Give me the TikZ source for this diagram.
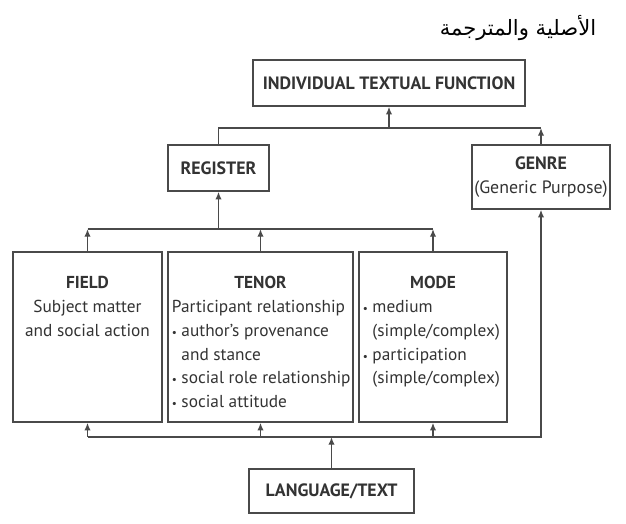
\documentclass[tikz,border=0pt]{standalone}
\usepackage{fontspec}
\setmainfont{PT Sans}
\newfontfamily\arabicfont[Script=Arabic]{DejaVu Sans}
\TeXXeTstate=1
\usetikzlibrary{arrows.meta, calc, positioning}
\definecolor{LineGrey}{HTML}{4A4A4A}
\definecolor{TextGrey}{HTML}{333333}
\tikzstyle{heading} = [rectangle, draw=LineGrey, line width=1pt, text=TextGrey,
font=\fontsize{12.7}{17}\selectfont\bfseries, align=center, inner sep=0pt]
\tikzstyle{panel} = [rectangle, draw=LineGrey, line width=1pt, text=TextGrey,
font=\fontsize{12.3}{17}\selectfont, inner sep=0pt]
\tikzstyle{wire} = [draw=LineGrey, line width=1pt]
\tikzstyle{arr} = [wire, -{Latex[length=5.5pt,width=4.5pt]}]
\newcommand{\panelbox}[2]{\parbox[c][4.25cm][t]{#1}{\vspace*{0.6cm}#2}}
\newcommand{\bul}[1]{\par\hangindent=0.55em\hangafter=1\noindent
  \makebox[0.55em][l]{\footnotesize\textbullet}#1}

\begin{document}
\begin{tikzpicture}[x=0.025cm,y=-0.025cm]
   \useasboundingbox (0,0) rectangle (626,524);
   \node (caption) at (518,28) {\fontsize{15}{16}\selectfont\arabicfont\beginR الأصلية والمترجمة\endR};
   \node[heading,minimum width=6.8cm,minimum height=1.15cm] (itf) at (389,83)
    {INDIVIDUAL TEXTUAL FUNCTION};
   \node[heading,minimum width=2.525cm,minimum height=1.15cm] (register) at (218.5,168)
    {REGISTER};
   \node[heading,minimum width=3.45cm,minimum height=1.6cm] (genre) at (541,177)
    {GENRE\\\mdseries(Generic Purpose)};
   \node[panel] (field) at (87.5,337)
    {\panelbox{3.725cm}{\centering\textbf{FIELD}\\Subject matter\\and social action}};
   \node[panel] (tenor) at (260.5,337)
    {\panelbox{4.625cm}{\centering\textbf{TENOR}\par\raggedright\leftskip=0.1cm
     \noindent Participant relationship
     \bul{author’s provenance\newline and stance}
     \bul{social role relationship}
     \bul{social attitude}}};
   \node[panel] (mode) at (433,337)
    {\panelbox{3.7cm}{\centering\textbf{MODE}\par\raggedright\leftskip=0.1cm
     \bul{medium\newline (simple/complex)}
     \bul{participation\newline (simple/complex)}}};
   \node[heading,minimum width=4.125cm,minimum height=1.1cm] (lang) at (331.5,491)
    {LANGUAGE/TEXT};
   % top level
   \coordinate (topbus) at (389,128);
   \draw[arr] (topbus) -- (itf.south);
   \draw[wire] (register.north) |- (genre.north |- topbus);
   \draw[arr] (genre.north) -- (genre.north |- topbus);
   % register level
   \coordinate (midbus) at (218.5,229);
   \draw[wire] (field.north |- midbus) -- (mode.north |- midbus);
   \draw[arr] (midbus) -- (register.south);
   \foreach \b in {field,tenor,mode}
     \draw[arr] (\b.north) -- (\b.north |- midbus);
   % language level
   \coordinate (lowbus) at (331.5,437);
   \draw[arr] (field.south |- lowbus) -| (genre.south);
   \foreach \b in {field,tenor,mode}
     \draw[arr] (\b.south |- lowbus) -- (\b.south);
   \draw[arr] (lang.north) -- (lowbus);
  \end{tikzpicture}
\end{document}
